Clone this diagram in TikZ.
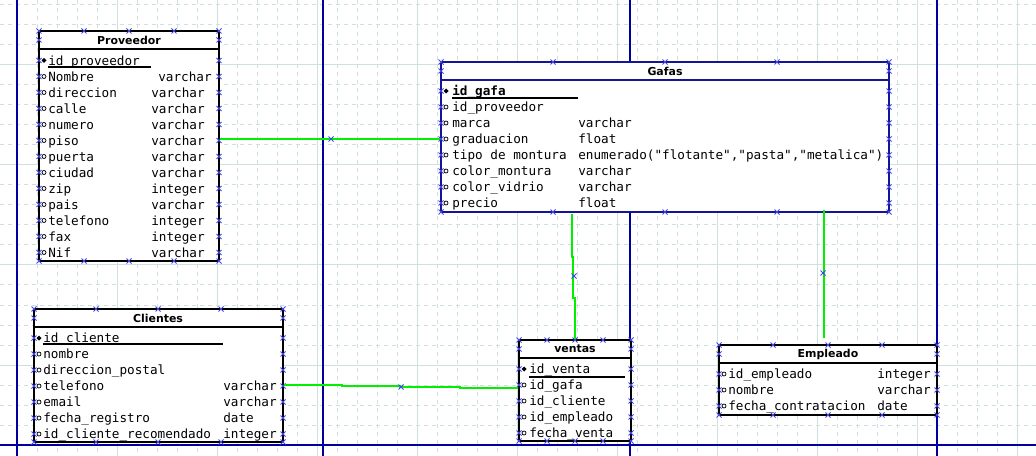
\documentclass[tikz,border=0pt]{standalone}
\usepackage{fontspec}
\newfontfamily\monof{DejaVu Sans Mono}
\newfontfamily\headf{DejaVu Sans}
\definecolor{gridc}{RGB}{208,224,224}
\definecolor{pagec}{RGB}{0,0,160}
\definecolor{selc}{RGB}{20,20,150}
\definecolor{xmc}{RGB}{70,70,230}
\definecolor{linkc}{RGB}{0,240,0}
\tikzset{
  rowtxt/.style={font=\monof\fontsize{9.5}{11}\selectfont, anchor=base west, inner sep=0pt},
  hdrtxt/.style={font=\headf\bfseries\fontsize{8.2}{10}\selectfont, inner sep=0pt},
  tbox/.style={draw=black, fill=white, line width=1.9pt},
  hline/.style={draw=black, line width=1.9pt},
  gridminor/.style={draw=gridc, line width=0.75pt, dash pattern=on 3pt off 3pt},
  gridmajor/.style={draw=gridc, line width=0.75pt},
  pageline/.style={draw=pagec, line width=1pt},
  xmark/.style={draw=xmc, line width=0.6pt},
  link/.style={draw=linkc, line width=1.9pt},
  ulin/.style={draw=black, line width=0.8pt},
  pk/.style={fill=black},
  fk/.style={draw=black, line width=0.55pt, fill=white}
}
\newcommand\xmk[2]{\draw[xmark] ({#1-2.5},{#2-2.5}) -- ({#1+2.5},{#2+2.5}) ({#1-2.5},{#2+2.5}) -- ({#1+2.5},{#2-2.5});}
\newcommand\pkmark[2]{\fill[pk] ({#1-2.5},{#2}) -- ({#1},{#2-2.5}) -- ({#1+2.5},{#2}) -- ({#1},{#2+2.5}) -- cycle;}
\newcommand\fkmark[2]{\draw[fk] (#1,#2) circle (2);}
\begin{document}
\begin{tikzpicture}[x=0.75pt,y=-0.75pt]
\useasboundingbox (0,0) rectangle (1036,456);
\fill[white] (0,0) rectangle (1036,456);
% grid
\foreach \gx in {37,57,77,97,137,157,177,197,237,257,277,297,337,357,377,397,437,457,477,497,537,557,577,597,637,657,677,697,737,757,777,797,837,857,877,897,937,957,977,997,1037}
  \draw[gridminor] (\gx,0) -- (\gx,456);
\foreach \gy in {5,25,45,85,105,125,145,185,205,225,245,285,305,325,345,385,405,425,445}
  \draw[gridminor] (0,\gy) -- (1036,\gy);
\foreach \gx in {17,117,217,317,417,517,617,717,817,917,1017}
  \draw[gridmajor] (\gx,0) -- (\gx,456);
\foreach \gy in {65,165,265,365}
  \draw[gridmajor] (0,\gy) -- (1036,\gy);
% page boundaries
\foreach \px in {17,323,630,937}
  \draw[pageline] (\px,0) -- (\px,456);
\draw[pageline] (0,445) -- (1036,445);

% ---------- Proveedor ----------
\draw[tbox] (39,31) rectangle (219,261);
\draw[hline] (39,49) -- (219,49);
\node[hdrtxt] (prov-h) at (129,40) {Proveedor};
\node[rowtxt] (prov-pk) at (48,65.5) {id\_proveedor};
\draw[ulin] (48,67) -- (151,67);
\pkmark{44}{60.5}
\node[rowtxt] (prov-nom) at (48,81.5) {Nombre};
\node[rowtxt] (prov-nomt) at (158,81.5) {varchar};
\fkmark{44}{76.5}
\foreach \nm/\ty [count=\i from 2] in {direccion/varchar,calle/varchar,numero/varchar,piso/varchar,puerta/varchar,ciudad/varchar,zip/integer,pais/varchar,telefono/integer,fax/integer,Nif/varchar}{
  \node[rowtxt] (prov-a\i) at (48,{60.5+16*\i+5}) {\nm};
  \node[rowtxt] (prov-t\i) at (151,{60.5+16*\i+5}) {\ty};
  \fkmark{44}{60.5+16*\i}
}
\foreach \k in {0,...,12}{\xmk{39}{60.5+16*\k}\xmk{219}{60.5+16*\k}}
\xmk{39}{40}\xmk{219}{40}
\foreach \qx in {39,84,129,174,219}{\xmk{\qx}{31}\xmk{\qx}{261}}

% ---------- Gafas ----------
\draw[tbox, draw=selc] (441,62) rectangle (889,212);
\draw[hline, draw=selc] (441,80) -- (889,80);
\node[hdrtxt] (gaf-h) at (665,71) {Gafas};
\node[rowtxt, font=\monof\bfseries\fontsize{9.5}{11}\selectfont] (gaf-pk) at (452,95.5) {id\_gafa};
\draw[ulin] (452,98) -- (578,98);
\pkmark{446}{91}
\foreach \nm/\ty [count=\i from 1] in {id\_proveedor/,marca/varchar,graduacion/float,tipo de montura/{enumerado("flotante","pasta","metalica")},color\_montura/varchar,color\_vidrio/varchar,precio/float}{
  \node[rowtxt] (gaf-a\i) at (452,{91+16*\i+4.5}) {\nm};
  \node[rowtxt] (gaf-t\i) at (578,{91+16*\i+4.5}) {\ty};
  \fkmark{446}{91+16*\i}
}
\foreach \k in {0,...,7}{\xmk{441}{91+16*\k}\xmk{889}{91+16*\k}}
\xmk{441}{71}\xmk{889}{71}
\foreach \qx in {441,553,665,777,889}{\xmk{\qx}{62}\xmk{\qx}{212}}

% ---------- Clientes ----------
\draw[tbox] (34,309) rectangle (283,442);
\draw[hline] (34,327) -- (283,327);
\node[hdrtxt] (cli-h) at (158,318) {Clientes};
\node[rowtxt] (cli-pk) at (43,342.5) {id\_cliente};
\draw[ulin] (43,344) -- (223,344);
\pkmark{39}{338}
\foreach \nm/\ty [count=\i from 1] in {nombre/,direccion\_postal/,telefono/varchar,email/varchar,fecha\_registro/date,id\_cliente\_recomendado/integer}{
  \node[rowtxt] (cli-a\i) at (43,{338+16*\i+4.5}) {\nm};
  \node[rowtxt] (cli-t\i) at (223,{338+16*\i+4.5}) {\ty};
  \fkmark{39}{338+16*\i}
}
\foreach \k in {0,...,6}{\xmk{34}{338+16*\k}\xmk{283}{338+16*\k}}
\xmk{34}{318}\xmk{283}{318}
\foreach \qx in {34,96,158,221,283}{\xmk{\qx}{309}\xmk{\qx}{442}}

% ---------- ventas ----------
\draw[tbox] (519,340) rectangle (631,441);
\draw[hline] (519,358) -- (631,358);
\node[hdrtxt] (ven-h) at (575,349) {ventas};
\node[rowtxt] (ven-pk) at (529,373.5) {id\_venta};
\draw[ulin] (529,377) -- (625,377);
\pkmark{524}{369}
\foreach \nm [count=\i from 1] in {id\_gafa,id\_cliente,id\_empleado,fecha\_venta}{
  \node[rowtxt] (ven-a\i) at (529,{369+16*\i+4.5}) {\nm};
  \fkmark{524}{369+16*\i}
}
\foreach \k in {0,...,4}{\xmk{519}{369+16*\k}\xmk{631}{369+16*\k}}
\xmk{519}{349}\xmk{631}{349}
\foreach \qx in {519,547,575,603,631}{\xmk{\qx}{340}\xmk{\qx}{441}}

% ---------- Empleado ----------
\draw[tbox] (719,345) rectangle (937,415);
\draw[hline] (719,363) -- (937,363);
\node[hdrtxt] (emp-h) at (828,354) {Empleado};
\foreach \nm/\ty [count=\i from 0] in {id\_empleado/integer,nombre/varchar,fecha\_contratacion/date}{
  \node[rowtxt] (emp-a\i) at (728,{374+16*\i+4.5}) {\nm};
  \node[rowtxt] (emp-t\i) at (877,{374+16*\i+4.5}) {\ty};
  \fkmark{724}{374+16*\i}
}
\foreach \k in {0,...,2}{\xmk{719}{374+16*\k}\xmk{937}{374+16*\k}}
\xmk{719}{354}\xmk{937}{354}
\foreach \qx in {719,773,828,882,937}{\xmk{\qx}{345}\xmk{\qx}{415}}

% ---------- connectors ----------
\coordinate (prov-piso) at (220,139);
\coordinate (gaf-grad) at (440,139);
\coordinate (gaf-b1) at (572,214);
\coordinate (ven-top) at (575,339);
\coordinate (gaf-b2) at (824,210);
\coordinate (emp-top) at (824,338);
\coordinate (cli-tel) at (284,385);
\coordinate (ven-gafa) at (518,388);
\draw[link] (prov-piso) -- (gaf-grad);
\draw[link] (gaf-b1) -- (572,257) -- (573,257) -- (573,298) -- (575,298) -- (ven-top);
\draw[link] (gaf-b2) -- (emp-top);
\draw[link] (cli-tel) -- (342,385) -- (342,386) -- (400,386) -- (400,387) -- (460,387) -- (460,388) -- (ven-gafa);
\xmk{331}{139}
\xmk{574}{276}
\xmk{823}{273}
\xmk{401}{387}
\end{tikzpicture}
\end{document}
